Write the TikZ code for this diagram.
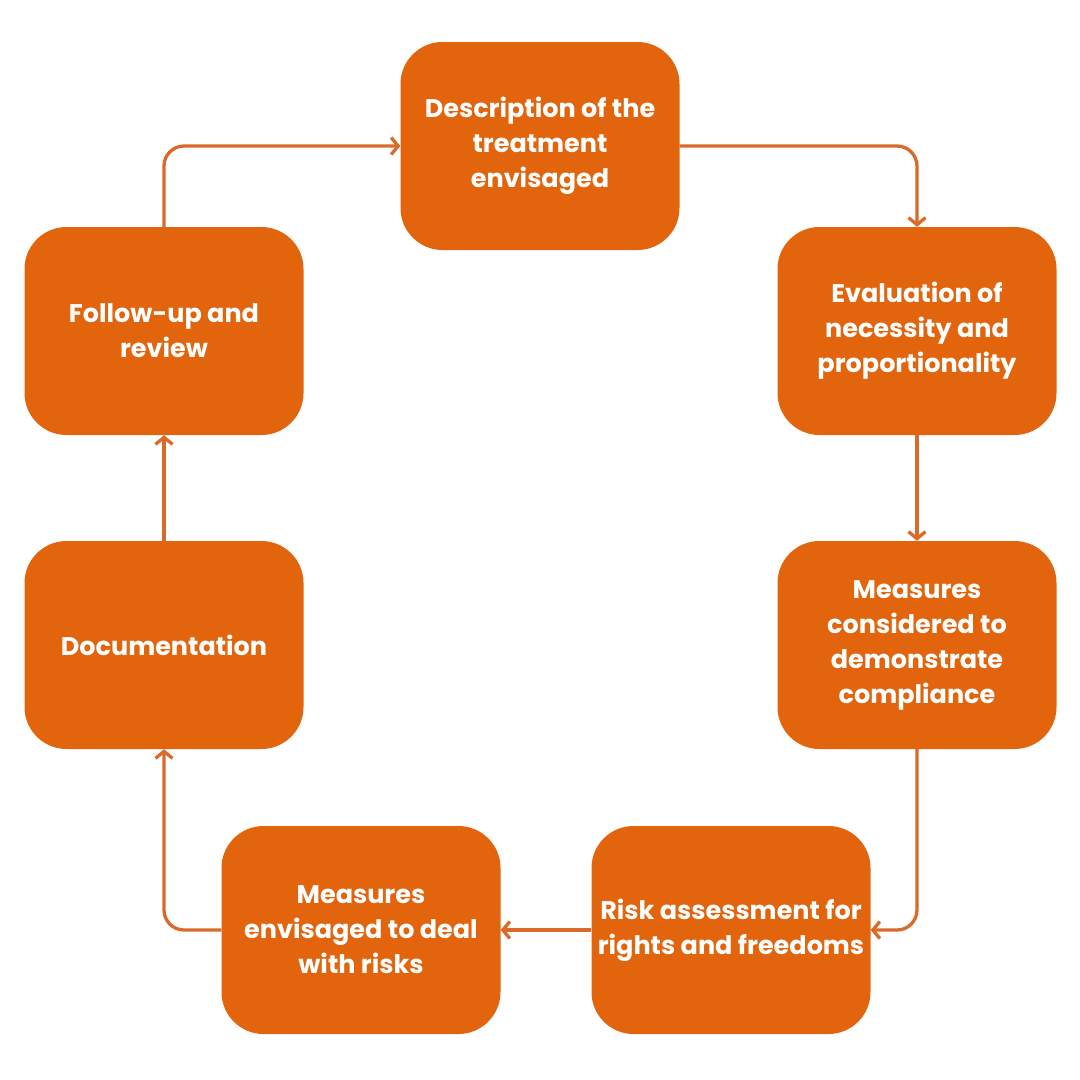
\documentclass[tikz,border=0pt]{standalone}
\usepackage{fontspec}
\setmainfont{Poppins}
\usetikzlibrary{arrows.meta}

\definecolor{boxorange}{HTML}{E2640C}
\definecolor{lineorange}{HTML}{DA6A2A}

\tikzset{
	stage/.style={fill=boxorange, text=white, rounded corners=42pt, minimum width=279pt, minimum height=208pt, inner sep=0pt, align=center, font=\bfseries\fontsize{25.5}{35}\selectfont},
	link/.style={draw=lineorange, line width=3.3pt, rounded corners=20pt, -{Straight Barb[length=7pt,width=17pt]}}
}

\begin{document}
\begin{tikzpicture}[x=1pt, y=-1pt]
		\fill[white] (0, 0) rectangle (1080, 1080);
		\useasboundingbox (0, 0) rectangle (1080, 1080);
		%%
		\node[stage] (desc) at (540, 146) {Description of the\\treatment\\envisaged};
		\node[stage] (eval) at (917, 331) {Evaluation of\\necessity and\\proportionality};
		\node[stage] (comp) at (917, 645) {Measures\\considered to\\demonstrate\\compliance};
		\node[stage] (risk) at (731, 930) {Risk assessment for\\rights and freedoms};
		\node[stage] (deal) at (361, 930) {Measures\\envisaged to deal\\with risks};
		\node[stage] (docu) at (164, 645) {Documentation};
		\node[stage] (foll) at (164, 331) {Follow-up and\\review};
		%%
		\draw[link] (desc.east) -| (eval.north);
		\draw[link] (eval.south) -- (comp.north);
		\draw[link] (comp.south) |- (risk.east);
		\draw[link] (risk.west) -- (deal.east);
		\draw[link] (deal.west) -| (docu.south);
		\draw[link] (docu.north) -- (foll.south);
		\draw[link] (foll.north) |- (desc.west);
	\end{tikzpicture}
\end{document}
